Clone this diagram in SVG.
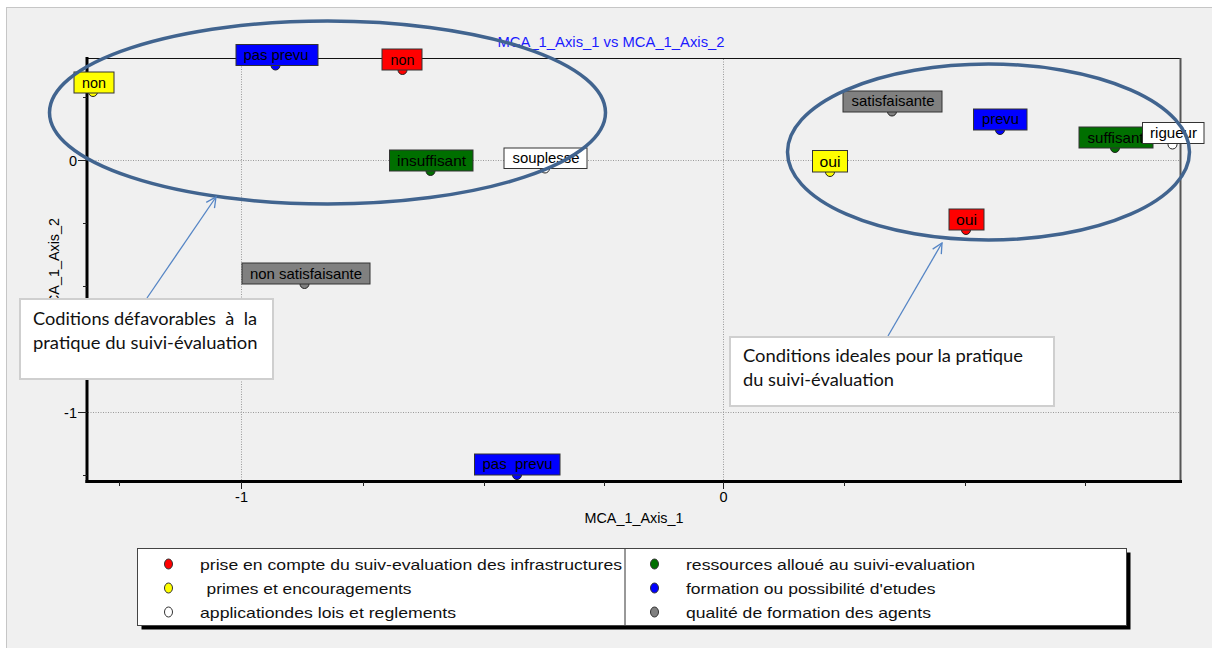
<svg xmlns="http://www.w3.org/2000/svg" width="1212" height="648" viewBox="0 0 1212 648">
<defs>
<style>
.t{font-family:"Liberation Sans",Arial,sans-serif;fill:#000}
.lab{font-size:14.5px;text-anchor:middle}
.box{stroke:#333;stroke-width:1}
.mk{stroke:#222;stroke-width:1}
.grid{stroke:#9a9a9a;stroke-width:1;stroke-dasharray:1 1.5;fill:none}
.tick{stroke:#222;stroke-width:1}
.ell{fill:none;stroke:#41648f;stroke-width:3.5}
.arr{fill:none;stroke:#5585c5;stroke-width:1.3;marker-end:url(#ah)}
.co{fill:#fff;stroke:#cfcfcf;stroke-width:2}
.cot{font-family:Lato,"Open Sans","Noto Sans",sans-serif;font-size:17.5px;fill:#111}
.leg{font-family:"Liberation Sans",Arial,sans-serif;font-size:15px;fill:#111}
.ld{stroke:#333;stroke-width:1}
</style>
<marker id="ah" viewBox="0 0 12 12" refX="11" refY="6" markerWidth="12" markerHeight="12" markerUnits="userSpaceOnUse" orient="auto">
<path d="M1,1 L11,6 L1,11" fill="none" stroke="#5585c5" stroke-width="1.3"/>
</marker>
</defs>
<rect x="0" y="0" width="1212" height="648" fill="#fff"/>
<rect x="6.5" y="7.5" width="1220" height="660" fill="#f0f0f0" stroke="#c6c6c6" stroke-width="1"/>

<text class="t" x="611" y="46.5" font-size="14.5" style="fill:#1a1aff" text-anchor="middle" textLength="227" lengthAdjust="spacingAndGlyphs">MCA_1_Axis_1 vs MCA_1_Axis_2</text>

<g id="grid">
<line class="grid" x1="88" y1="160.5" x2="1180" y2="160.5"/>
<line class="grid" x1="88" y1="412.5" x2="1180" y2="412.5"/>
<line class="grid" x1="241.5" y1="59" x2="241.5" y2="480"/>
<line class="grid" x1="723.5" y1="59" x2="723.5" y2="480"/>
</g>

<g id="axes">
<line x1="87" y1="58.5" x2="1181" y2="58.5" stroke="#111" stroke-width="1.2"/>
<line x1="1180.5" y1="58" x2="1180.5" y2="481" stroke="#555" stroke-width="2"/>
<line x1="87" y1="57" x2="87" y2="483" stroke="#000" stroke-width="3"/>
<line x1="85.5" y1="481.5" x2="1182" y2="481.5" stroke="#000" stroke-width="3"/>
<g class="tick">
<line x1="83" y1="97.5" x2="87" y2="97.5"/>
<line x1="78" y1="160.5" x2="87" y2="160.5"/>
<line x1="83" y1="223.5" x2="87" y2="223.5"/>
<line x1="83" y1="286.5" x2="87" y2="286.5"/>
<line x1="83" y1="349.5" x2="87" y2="349.5"/>
<line x1="78" y1="412.5" x2="87" y2="412.5"/>
<line x1="83" y1="475.5" x2="87" y2="475.5"/>
<line x1="119.5" y1="482" x2="119.5" y2="486"/>
<line x1="241.5" y1="482" x2="241.5" y2="489"/>
<line x1="363.5" y1="482" x2="363.5" y2="486"/>
<line x1="484.5" y1="482" x2="484.5" y2="486"/>
<line x1="604.5" y1="482" x2="604.5" y2="486"/>
<line x1="723.5" y1="482" x2="723.5" y2="489"/>
<line x1="844.5" y1="482" x2="844.5" y2="486"/>
<line x1="965.5" y1="482" x2="965.5" y2="486"/>
<line x1="1085.5" y1="482" x2="1085.5" y2="486"/>
</g>
<text class="t" x="77" y="165.5" font-size="14.5" text-anchor="end">0</text>
<text class="t" x="77" y="417.5" font-size="14.5" text-anchor="end">-1</text>
<text class="t" x="241.5" y="502" font-size="14.5" text-anchor="middle">-1</text>
<text class="t" x="723.5" y="502" font-size="14.5" text-anchor="middle">0</text>
<text class="t" x="634" y="523" font-size="14.5" text-anchor="middle" textLength="99" lengthAdjust="spacingAndGlyphs">MCA_1_Axis_1</text>
<text class="t" font-size="14.5" text-anchor="middle" textLength="99" lengthAdjust="spacingAndGlyphs" transform="translate(59,267.5) rotate(-90)">MCA_1_Axis_2</text>
</g>

<g id="p-non-primes">
<circle class="mk" cx="93" cy="92" r="4.5" fill="#ffff00"/>
<rect class="box" x="74" y="72" width="40" height="21" fill="#ffff00"/>
<text class="t lab" x="94" y="87.5" textLength="24" lengthAdjust="spacingAndGlyphs">non</text>
</g>
<g id="p-pas-prevu-1">
<circle class="mk" cx="275.5" cy="65.5" r="4.5" fill="#0000ff"/>
<rect class="box" x="236" y="44.5" width="82" height="21" fill="#0000ff"/>
<text class="t lab" x="276" y="59.5" textLength="65" lengthAdjust="spacingAndGlyphs">pas prevu</text>
</g>
<g id="p-non-infra">
<circle class="mk" cx="402.5" cy="70" r="4.5" fill="#ff0000"/>
<rect class="box" x="382" y="49" width="40" height="21" fill="#ff0000"/>
<text class="t lab" x="402.5" y="64.5" textLength="24" lengthAdjust="spacingAndGlyphs">non</text>
</g>
<g id="p-insuffisant">
<circle class="mk" cx="430.5" cy="171" r="4.5" fill="#006f00"/>
<rect class="box" x="389.5" y="150" width="83.5" height="21" fill="#006f00"/>
<text class="t lab" x="431.5" y="165.5" textLength="69" lengthAdjust="spacingAndGlyphs">insuffisant</text>
</g>
<g id="p-souplesse">
<circle class="mk" cx="545" cy="168.5" r="4.5" fill="#fff"/>
<rect class="box" x="504" y="148" width="83" height="20.5" fill="#fff"/>
<text class="t lab" x="546" y="163" textLength="67" lengthAdjust="spacingAndGlyphs">souplesse</text>
</g>
<g id="p-non-satisfaisante">
<circle class="mk" cx="304.5" cy="284" r="4.5" fill="#808080"/>
<rect class="box" x="242" y="263" width="128" height="21" fill="#808080"/>
<text class="t lab" x="306" y="278.5" textLength="112" lengthAdjust="spacingAndGlyphs">non satisfaisante</text>
</g>
<g id="p-pas-prevu-2">
<circle class="mk" cx="517" cy="475" r="4.5" fill="#0000ff"/>
<rect class="box" x="474.5" y="454" width="85.5" height="21" fill="#0000ff"/>
<text class="t lab" x="517.5" y="469" xml:space="preserve" textLength="70" lengthAdjust="spacingAndGlyphs">pas  prevu</text>
</g>
<g id="p-satisfaisante">
<circle class="mk" cx="892" cy="111.5" r="4.5" fill="#808080"/>
<rect class="box" x="843" y="91" width="99" height="21" fill="#808080"/>
<text class="t lab" x="893" y="106" textLength="83" lengthAdjust="spacingAndGlyphs">satisfaisante</text>
</g>
<g id="p-prevu">
<circle class="mk" cx="1000" cy="130" r="4.5" fill="#0000ff"/>
<rect class="box" x="973.5" y="109" width="53.5" height="21" fill="#0000ff"/>
<text class="t lab" x="1000.5" y="124" textLength="37" lengthAdjust="spacingAndGlyphs">prevu</text>
</g>
<g id="p-suffisant">
<circle class="mk" cx="1115" cy="148" r="4.5" fill="#006f00"/>
<rect class="box" x="1079" y="127" width="74" height="21" fill="#006f00"/>
<text class="t lab" x="1115.5" y="142.5" textLength="56" lengthAdjust="spacingAndGlyphs">suffisant</text>
</g>
<g id="p-rigueur">
<circle class="mk" cx="1172.5" cy="144.5" r="4.5" fill="#fff"/>
<rect class="box" x="1142.5" y="122.5" width="61.5" height="21" fill="#fff"/>
<text class="t lab" x="1173.5" y="138" textLength="47" lengthAdjust="spacingAndGlyphs">rigueur</text>
</g>
<g id="p-oui-primes">
<circle class="mk" cx="830" cy="172" r="4.5" fill="#ffff00"/>
<rect class="box" x="812.5" y="150.5" width="35" height="21.5" fill="#ffff00"/>
<text class="t lab" x="830" y="166.5" textLength="21" lengthAdjust="spacingAndGlyphs">oui</text>
</g>
<g id="p-oui-infra">
<circle class="mk" cx="966" cy="230" r="4.5" fill="#ff0000"/>
<rect class="box" x="949" y="209" width="35" height="21" fill="#ff0000"/>
<text class="t lab" x="966.5" y="225" textLength="21" lengthAdjust="spacingAndGlyphs">oui</text>
</g>

<g id="group-defavorables">
<ellipse class="ell" cx="327.5" cy="112.5" rx="278" ry="91.5"/>
</g>
<g id="group-ideales">
<ellipse class="ell" cx="988.5" cy="152" rx="201" ry="88"/>
</g>

<g id="connectors">
<line class="arr" x1="147" y1="298" x2="216" y2="197"/>
<line class="arr" x1="888" y1="336" x2="942" y2="243"/>
</g>

<g id="callout-defavorables">
<rect class="co" x="20" y="299" width="253" height="80"/>
<text class="cot" x="33" y="324.5" xml:space="preserve" textLength="224" lengthAdjust="spacingAndGlyphs">Coditions défavorables  à  la</text>
<text class="cot" x="33" y="348.5" textLength="224.5" lengthAdjust="spacingAndGlyphs">pratique du suivi-évaluation</text>
</g>
<g id="callout-ideales">
<rect class="co" x="730" y="337" width="324" height="69"/>
<text class="cot" x="743" y="362" textLength="280" lengthAdjust="spacingAndGlyphs">Conditions ideales pour la pratique</text>
<text class="cot" x="743" y="386" textLength="151" lengthAdjust="spacingAndGlyphs">du suivi-évaluation</text>
</g>

<g id="legend">
<rect x="141.5" y="552.5" width="989" height="77" fill="#000"/>
<rect x="137.5" y="548.5" width="989" height="77" fill="#fff" stroke="#444" stroke-width="1"/>
<line x1="625" y1="549" x2="625" y2="625" stroke="#333" stroke-width="1"/>
<ellipse class="ld" cx="168.5" cy="564" rx="4" ry="5" fill="#ff0000"/>
<ellipse class="ld" cx="168.5" cy="588" rx="4" ry="5" fill="#ffff00"/>
<ellipse class="ld" cx="168.5" cy="612" rx="4" ry="5" fill="#fff"/>
<ellipse class="ld" cx="654.5" cy="564" rx="4" ry="5" fill="#006f00"/>
<ellipse class="ld" cx="654.5" cy="588" rx="4" ry="5" fill="#0000ff"/>
<ellipse class="ld" cx="654.5" cy="612" rx="4" ry="5" fill="#808080"/>
<text class="leg" x="200" y="569.5" textLength="422" lengthAdjust="spacingAndGlyphs">prise en compte du suiv-evaluation des infrastructures</text>
<text class="leg" x="206.5" y="593.5" textLength="205" lengthAdjust="spacingAndGlyphs">primes et encouragements</text>
<text class="leg" x="200" y="617.5" textLength="256" lengthAdjust="spacingAndGlyphs">applicationdes lois et reglements</text>
<text class="leg" x="686" y="569.5" textLength="289" lengthAdjust="spacingAndGlyphs">ressources alloué au suivi-evaluation</text>
<text class="leg" x="686" y="593.5" textLength="249.5" lengthAdjust="spacingAndGlyphs">formation ou possibilité d'etudes</text>
<text class="leg" x="686" y="617.5" textLength="245" lengthAdjust="spacingAndGlyphs">qualité de formation des agents</text>
</g>
</svg>
